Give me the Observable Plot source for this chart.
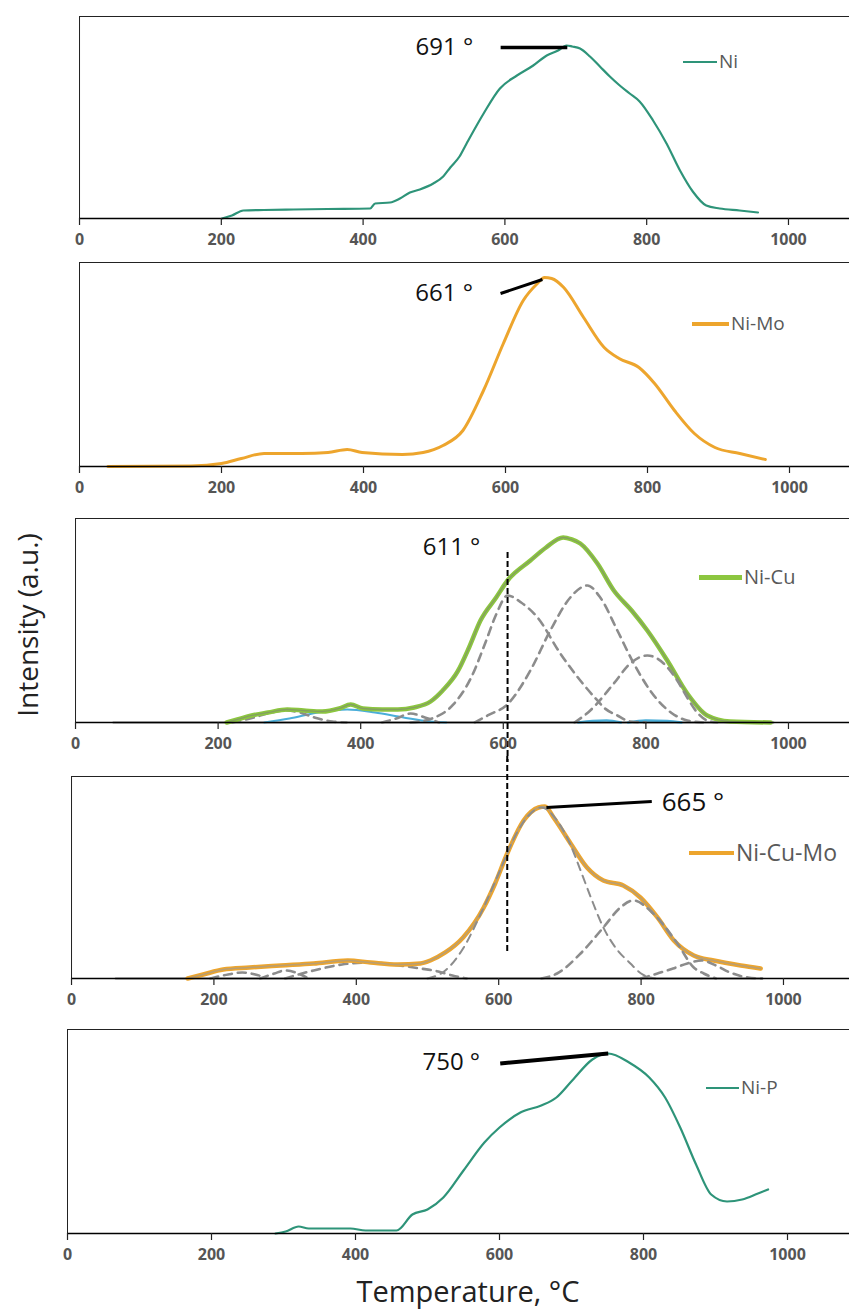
<!DOCTYPE html>
<html><head><meta charset="utf-8">
<script src="https://cdn.jsdelivr.net/npm/d3@7"></script>
<script src="https://cdn.jsdelivr.net/npm/@observablehq/plot@0.6"></script>
<style>
html,body{margin:0;padding:0;background:#fff;overflow:hidden;}
#root{position:relative;width:849px;height:1315px;overflow:hidden;font-family:"Open Sans",sans-serif;background:#fff;}
.panel{position:absolute;left:0;}
.legend{position:absolute;display:flex;align-items:center;color:#595959;white-space:nowrap;line-height:1;}
.legend .sw{display:inline-block;margin-right:2px;}
.ylab{position:absolute;left:27px;top:625px;transform:translate(-50%,-50%) rotate(-90deg);font-size:28px;color:#222;white-space:nowrap;}
.xlab{position:absolute;left:468px;top:1290px;transform:translate(-50%,-50%);font-size:29px;color:#222;white-space:nowrap;}
</style></head>
<body><div id="root"></div>
<script>
// ---------- data (temperature °C, intensity a.u.) ----------
const tickValues = [0, 200, 400, 600, 800, 1000];
const seriesNames = ["Ni", "Ni-Mo", "Ni-Cu", "Ni-Cu-Mo", "Ni-P"];
const peakLabels = ["691 °", "661 °", "611 °", "665 °", "750 °"];

const ni = [[201,0],[215,3],[231,8],[260,8.5],[302,9],[350,9.5],[410,10],[417,15],[438,16],[452,20],[466,26],[480,29],[499,35],[513,42],[523,51],[536,62],[546,75],[570,105],[593,130],[617,143],[640,153],[659,163],[675,168],[687,173],[695,172],[706,170],[720,162],[734,152],[748,142],[762,133],[776,125],[790,117],[809,98],[828,75],[847,48],[865,27],[884,13],[903,10],[931,8],[957,6]];

const niMo = [[40,0],[157,0.5],[200,3],[228,8],[260,13],[313,13],[350,14],[377,17],[398,14],[455,12],[484,14],[512,21],[540,36],[569,76],[597,123],[625,166],[645,183],[655,189],[665,188],[682,179],[710,149],[739,119],[760,108],[788,99],[810,83],[838,56],[866,33],[895,19],[930,13],[966,7]];

const niCu = [[212,0],[227,3],[247,7],[270,10],[297,13],[320,12],[346,11],[370,14],[386,18],[403,14],[430,13],[452,13],[475,15],[498,21],[515,32],[536,51],[552,75],[568,102],[590,125],[606,142],[638,162],[660,175],[684,185],[696,183],[708,179],[732,159],[755,132],[780,112],[802,92],[830,62],[858,29],[886,7],[918,1],[975,0]];
const niCuBase = [[53,0],[979,0]];
const niCuPeakA = [[470,0],[500,4],[530,18],[555,45],[575,80],[590,108],[606,127],[625,120],[648,105],[680,69],[708,42],[732,22],[741,15],[760,7],[778,1],[800,0]];
const niCuPeakB = [[560,0],[578,7],[607,19],[638,52],[666,92],[694,125],[718,137],[736,125],[760,92],[783,59],[806,32],[835,10],[858,2],[880,0]];
const niCuPeakC = [[700,0],[722,12],[755,39],[778,59],[802,67],[825,59],[844,42],[858,25],[872,10],[886,2],[900,0]];
const niCuLow1 = [[220,0],[250,5],[275,10],[295,12],[315,10],[335,5],[360,1],[380,0]];
const niCuLow2 = [[430,0],[450,4],[470,9],[490,5],[510,0]];
const niCuBlue1 = [[265,0],[300,4],[340,10],[381,13],[420,10],[460,5],[498,1],[520,0]];
const niCuBlue2 = [[705,0],[725,1.5],[745,2],[765,0]];
const niCuBlue3 = [[775,0],[800,2],[830,1.5],[850,0]];

const niCuMo = [[163,0],[185,4],[213,9],[250,11],[294,13],[340,15],[388,18],[420,16],[458,14],[490,15],[504,18],[525,26],[550,41],[579,71],[595,95],[612,125],[635,158],[656,171],[665,172],[677,161],[701,135],[724,111],[747,98],[775,93],[799,81],[823,61],[846,38],[874,23],[902,18],[940,13],[968,10]];
const niCuMoBase = [[62,0],[970,0]];
const niCuMoPeakD = [[500,0],[525,8],[550,30],[575,65],[600,105],[625,145],[645,165],[660,171],[680,160],[700,135],[715,108],[730,80],[747,51],[765,30],[785,15],[800,5],[820,0]];
const niCuMoPeakE = [[660,0],[682,5],[715,25],[747,51],[771,71],[789,78],[817,65],[851,35],[874,11],[888,5],[905,0]];
const niCuMoPeakF = [[800,0],[823,5],[845,10],[865,15],[885,18],[905,13],[925,6],[950,1],[970,0]];
const niCuMoLow1 = [[195,0],[220,4],[240,6],[258,4],[272,1]];
const niCuMoLow2 = [[265,0],[285,5],[300,8],[315,6],[330,1]];
const niCuMoLow3 = [[300,0],[340,8],[380,14],[420,16],[460,13],[490,10],[515,7],[535,3],[555,0]];

const niP = [[289,0],[303,2],[321,7],[335,5],[393,5],[414,3],[457,3],[479,19],[500,24],[522,36],[550,63],[579,91],[600,106],[629,121],[658,128],[679,136],[701,153],[729,174],[751,180],[780,171],[808,156],[830,136],[851,106],[873,69],[894,39],[916,32],[937,34],[959,40],[973,44]];

// ---------- styling / layout ----------
const TEAL = "#2e9479", ORANGE = "#eda52d", GREEN = "#8cc63f", BLUE = "#4aaed9", GREY = "#8c8c8c";
const XMAX = 1150, MT = 20, MB = 40;

const toRows = arr => arr.map(([t, v]) => ({t, v}));
const dashed = (arr, w = 2.6) => Plot.line(toRows(arr), {x: "t", y: "v", stroke: GREY, strokeWidth: w, strokeDasharray: "8,6", curve: "monotone-x"});
const solid = (arr, stroke, w, extra = {}) => Plot.line(toRows(arr), {x: "t", y: "v", stroke, strokeWidth: w, curve: "monotone-x", strokeLinejoin: "round", ...extra});

const panels = [
  {top: 16, axis: 218, x0: 79, k: 0.709,
   marks: [solid(ni, TEAL, 2.2)],
   label: {x: 474, y: 171, size: 24}, link: {x1: 594, y1: 171, x2: 688, y2: 171, w: 3.5},
   legend: {left: 683, top: 62, sw: 34, lw: 2.2, color: TEAL, font: 19}},
  {top: 262, axis: 466, x0: 79, k: 0.71,
   marks: [solid(niMo, ORANGE, 3)],
   label: {x: 473, y: 173, size: 24}, link: {x1: 593, y1: 173, x2: 652, y2: 187, w: 3},
   legend: {left: 692, top: 324, sw: 37, lw: 4, color: ORANGE, font: 19}},
  {top: 518, axis: 722, x0: 75, k: 0.713,
   marks: [
     solid(niCuBase, GREY, 2),
     solid(niCuBlue1, BLUE, 2), solid(niCuBlue2, BLUE, 2.5), solid(niCuBlue3, BLUE, 2.5),
     dashed(niCuLow1), dashed(niCuLow2),
     solid(niCu, GREEN, 4.5),
     solid(niCu, "#7d8576", 1.3, {strokeOpacity: 0.6}),
     dashed(niCuPeakA), dashed(niCuPeakB), dashed(niCuPeakC),
     Plot.ruleX([606], {y1: 170, y2: -MB, stroke: "#000", strokeWidth: 2, strokeDasharray: "6,3"})
   ],
   label: {x: 487, y: 175, size: 24},
   legend: {left: 699, top: 577, sw: 43, lw: 5, color: GREEN, font: 20}},
  {top: 776, axis: 978, x0: 71, k: 0.712,
   marks: [
     solid(niCuMoBase, GREY, 2),
     dashed(niCuMoLow1), dashed(niCuMoLow2), dashed(niCuMoLow3),
     solid(niCuMo, ORANGE, 4.5),
     solid(niCuMo, "#a29b90", 1.5, {strokeOpacity: 0.7}),
     dashed(niCuMoPeakD, 2), dashed(niCuMoPeakE), dashed(niCuMoPeakF),
     Plot.ruleX([612], {y1: 202 + MT, y2: 26, stroke: "#000", strokeWidth: 2, strokeDasharray: "6,3"})
   ],
   label: {x: 829, y: 176, size: 26}, link: {x1: 667, y1: 171, x2: 815, y2: 177, w: 3},
   legend: {left: 689, top: 853, sw: 45, lw: 4, color: ORANGE, font: 23}},
  {top: 1029, axis: 1233, x0: 67, k: 0.72,
   marks: [solid(niP, TEAL, 2.2)],
   label: {x: 493, y: 171, size: 24}, link: {x1: 601, y1: 170, x2: 751, y2: 180, w: 4},
   legend: {left: 706, top: 1088, sw: 33, lw: 2.5, color: TEAL, font: 19}}
];

const root = document.getElementById("root");

panels.forEach((p, i) => {
  const H = p.axis - p.top;
  const marks = [
    Plot.frame({stroke: "#222", strokeWidth: 1}),
    ...p.marks,
    Plot.ruleY([0], {stroke: "#000", strokeWidth: 1.6}),
    Plot.axisX({ticks: tickValues, tickSize: 7, tickPadding: 8, tickFormat: d => String(d), label: null,
      fontSize: 16, fontWeight: "bold", fill: "#555", stroke: "#222", strokeWidth: 1.2}),
    Plot.text([{t: p.label.x, v: p.label.y, s: peakLabels[i]}], {x: "t", y: "v", text: "s",
      textAnchor: "start", lineAnchor: "middle", fontSize: p.label.size, fontWeight: "normal", fill: "#111"})
  ];
  if (p.link) marks.push(Plot.link([p.link], {x1: "x1", y1: "y1", x2: "x2", y2: "y2", stroke: "#000", strokeWidth: p.link.w}));
  const svg = Plot.plot({
    width: p.x0 + XMAX * p.k,
    height: MT + H + MB,
    marginLeft: p.x0, marginRight: 0, marginTop: MT, marginBottom: MB,
    x: {domain: [0, XMAX], axis: null, label: null},
    y: {domain: [0, H], axis: null, label: null},
    style: {maxWidth: "none", overflow: "visible", background: "transparent", fontFamily: "'Open Sans', sans-serif"},
    marks
  });
  svg.classList.add("panel");
  svg.style.top = (p.top - MT) + "px";
  svg.style.position = "absolute";
  svg.style.left = "0px";
  root.appendChild(svg);

  const lg = document.createElement("div");
  lg.className = "legend";
  lg.style.left = p.legend.left + "px";
  lg.style.top = (p.legend.top - p.legend.font * 0.6) + "px";
  lg.style.height = (p.legend.font * 1.2) + "px";
  lg.style.fontSize = p.legend.font + "px";
  const sw = document.createElement("span");
  sw.className = "sw";
  sw.style.width = p.legend.sw + "px";
  sw.style.height = p.legend.lw + "px";
  sw.style.background = p.legend.color;
  lg.appendChild(sw);
  lg.appendChild(document.createTextNode(seriesNames[i]));
  root.appendChild(lg);
});

const yl = document.createElement("div");
yl.className = "ylab"; yl.textContent = "Intensity (a.u.)";
root.appendChild(yl);
const xl = document.createElement("div");
xl.className = "xlab"; xl.textContent = "Temperature, °C";
root.appendChild(xl);
</script>
</body></html>
